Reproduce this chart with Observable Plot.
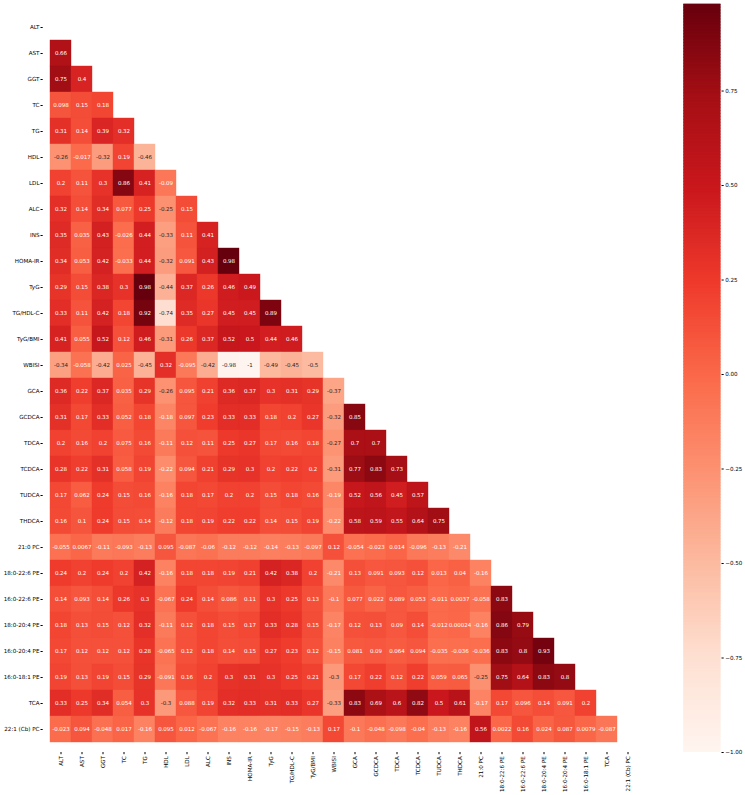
<!DOCTYPE html>
<html>
<head>
<meta charset="utf-8">
<script src="https://cdn.jsdelivr.net/npm/d3@7"></script>
<script src="https://cdn.jsdelivr.net/npm/@observablehq/plot@0.6"></script>
<style>
  html, body { margin: 0; padding: 0; background: #fff; }
  #wrap { display: flex; width: 745px; height: 795px; }
  #wrap svg { display: block; }
</style>
</head>
<body>
<div id="wrap"></div>
<script>
// ---- data ----
const labels = ["ALT","AST","GGT","TC","TG","HDL","LDL","ALC","INS","HOMA-IR","TyG","TG/HDL-C","TyG/BMI","WBISI","GCA","GCDCA","TDCA","TCDCA","TUDCA","THDCA","21:0 PC","18:0-22:6 PE","16:0-22:6 PE","18:0-20:4 PE","16:0-20:4 PE","16:0-18:1 PE","TCA","22:1 (Cb) PC"];

// lower triangle: row i (starting with AST) holds correlations with columns 0..i-1
const rowAST   = [0.66];
const rowGGT   = [0.75, 0.4];
const rowTC    = [0.098, 0.15, 0.18];
const rowTG    = [0.31, 0.14, 0.39, 0.32];
const rowHDL   = [-0.26, -0.017, -0.32, 0.19, -0.46];
const rowLDL   = [0.2, 0.11, 0.3, 0.86, 0.41, -0.09];
const rowALC   = [0.32, 0.14, 0.34, 0.077, 0.25, -0.25, 0.15];
const rowINS   = [0.35, 0.035, 0.43, -0.026, 0.44, -0.33, 0.11, 0.41];
const rowHOMA  = [0.34, 0.053, 0.42, -0.033, 0.44, -0.32, 0.091, 0.43, 0.98];
const rowTyG   = [0.29, 0.15, 0.38, 0.3, 0.98, -0.44, 0.37, 0.26, 0.46, 0.49];
const rowTGHDL = [0.33, 0.11, 0.42, 0.18, 0.92, -0.74, 0.35, 0.27, 0.45, 0.45, 0.89];
const rowTyGBMI= [0.41, 0.055, 0.52, 0.12, 0.46, -0.31, 0.26, 0.37, 0.52, 0.5, 0.44, 0.46];
const rowWBISI = [-0.34, -0.058, -0.42, 0.025, -0.45, 0.32, -0.095, -0.42, -0.98, -1, -0.49, -0.45, -0.5];
const rowGCA   = [0.36, 0.22, 0.37, 0.035, 0.29, -0.26, 0.095, 0.21, 0.36, 0.37, 0.3, 0.31, 0.29, -0.37];
const rowGCDCA = [0.31, 0.17, 0.33, 0.052, 0.18, -0.18, 0.097, 0.23, 0.33, 0.33, 0.18, 0.2, 0.27, -0.32, 0.85];
const rowTDCA  = [0.2, 0.16, 0.2, 0.075, 0.16, -0.11, 0.12, 0.11, 0.25, 0.27, 0.17, 0.16, 0.18, -0.27, 0.7, 0.7];
const rowTCDCA = [0.28, 0.22, 0.31, 0.058, 0.19, -0.22, 0.094, 0.21, 0.29, 0.3, 0.2, 0.22, 0.2, -0.31, 0.77, 0.83, 0.73];
const rowTUDCA = [0.17, 0.062, 0.24, 0.15, 0.16, -0.16, 0.18, 0.17, 0.2, 0.2, 0.15, 0.18, 0.16, -0.19, 0.52, 0.56, 0.45, 0.57];
const rowTHDCA = [0.16, 0.1, 0.24, 0.15, 0.14, -0.12, 0.18, 0.19, 0.22, 0.22, 0.14, 0.15, 0.19, -0.22, 0.58, 0.59, 0.55, 0.64, 0.75];
const row21PC  = [-0.055, 0.0067, -0.11, -0.093, -0.13, 0.095, -0.087, -0.06, -0.12, -0.12, -0.14, -0.13, -0.097, 0.12, -0.054, -0.023, 0.014, -0.096, -0.13, -0.21];
const row18226 = [0.24, 0.2, 0.24, 0.2, 0.42, -0.16, 0.18, 0.18, 0.19, 0.21, 0.42, 0.38, 0.2, -0.21, 0.13, 0.091, 0.093, 0.12, 0.013, 0.04, -0.16];
const row16226 = [0.14, 0.093, 0.14, 0.26, 0.3, -0.067, 0.24, 0.14, 0.086, 0.11, 0.3, 0.25, 0.13, -0.1, 0.077, 0.022, 0.089, 0.053, -0.011, 0.0037, -0.058, 0.83];
const row18204 = [0.18, 0.13, 0.15, 0.12, 0.32, -0.11, 0.12, 0.18, 0.15, 0.17, 0.33, 0.28, 0.15, -0.17, 0.12, 0.13, 0.09, 0.14, -0.012, 0.00024, -0.16, 0.86, 0.79];
const row16204 = [0.17, 0.12, 0.12, 0.12, 0.28, -0.065, 0.12, 0.18, 0.14, 0.15, 0.27, 0.23, 0.12, -0.15, 0.081, 0.09, 0.064, 0.094, -0.035, -0.036, -0.036, 0.83, 0.8, 0.93];
const row16181 = [0.19, 0.13, 0.19, 0.15, 0.29, -0.091, 0.16, 0.2, 0.3, 0.31, 0.3, 0.25, 0.21, -0.3, 0.17, 0.22, 0.12, 0.22, 0.059, 0.065, -0.25, 0.75, 0.64, 0.83, 0.8];
const rowTCA   = [0.33, 0.25, 0.34, 0.054, 0.3, -0.3, 0.088, 0.19, 0.32, 0.33, 0.31, 0.33, 0.27, -0.33, 0.83, 0.69, 0.6, 0.82, 0.5, 0.61, -0.17, 0.17, 0.096, 0.14, 0.091, 0.2];
const row221PC = [-0.023, 0.094, -0.048, 0.017, -0.16, 0.095, 0.012, -0.067, -0.16, -0.16, -0.17, -0.15, -0.13, 0.17, -0.1, -0.048, -0.098, -0.04, -0.13, -0.16, 0.56, 0.0022, 0.16, 0.024, 0.087, 0.0079, -0.087];

const lowerRows = [rowAST, rowGGT, rowTC, rowTG, rowHDL, rowLDL, rowALC, rowINS, rowHOMA, rowTyG, rowTGHDL, rowTyGBMI, rowWBISI, rowGCA, rowGCDCA, rowTDCA, rowTCDCA, rowTUDCA, rowTHDCA, row21PC, row18226, row16226, row18204, row16204, row16181, rowTCA, row221PC];

const colorbarTicks = [-1, -0.75, -0.5, -0.25, 0, 0.25, 0.5, 0.75];
const vmin = -1, vmax = 0.98;
const redsColors = ["#fff5f0","#fee0d2","#fcbba1","#fc9272","#fb6a4a","#ef3b2c","#cb181d","#a50f15","#67000d"];

// ---- build table ----
const cells = [];
lowerRows.forEach((vals, k) => {
  const i = k + 1;
  vals.forEach((v, j) => cells.push({row: labels[i], col: labels[j], value: v}));
});

const interp = d3.piecewise(d3.interpolateRgb, redsColors);
const toT = v => Math.max(0, Math.min(1, (v - vmin) / (vmax - vmin)));
function luminance(c) {
  const rgb = d3.rgb(c);
  const f = x => { x /= 255; return x <= 0.03928 ? x / 12.92 : Math.pow((x + 0.055) / 1.055, 2.4); };
  return 0.2126 * f(rgb.r) + 0.7152 * f(rgb.g) + 0.0722 * f(rgb.b);
}
const textColor = v => luminance(interp(toT(v))) > 0.408 ? "#262626" : "#ffffff";
const fmt2g = d3.format(".2~g");
const fmt = v => fmt2g(v).replace("\u2212", "-");

const colorScale = {type: "linear", domain: [vmin, vmax], interpolate: interp};
const FONT = "DejaVu Sans";

const main = Plot.plot({
  width: 660,
  height: 795,
  marginLeft: 42.7,
  marginRight: 14.7,
  marginTop: 3.6,
  marginBottom: 43,
  style: {fontFamily: FONT, fontSize: "5.6px", background: "#fff", color: "#000", overflow: "visible"},
  x: {domain: labels, padding: 0, tickRotate: -90, tickSize: 2.2, tickPadding: 1.5, label: null},
  y: {domain: labels, padding: 0, tickSize: 2.2, tickPadding: 1.5, label: null},
  color: colorScale,
  marks: [
    Plot.cell(cells, {x: "col", y: "row", fill: "value", stroke: "value", strokeWidth: 0.4, inset: 0}),
    Plot.text(cells, {x: "col", y: "row", text: d => fmt(d.value), fill: d => textColor(d.value), fontSize: 5.5})
  ]
});

const step = 0.004;
const ramp = d3.range(vmin, vmax, step);
const cbar = Plot.plot({
  width: 85,
  height: 795,
  marginLeft: 23.3,
  marginRight: 24.5,
  marginTop: 3.6,
  marginBottom: 43,
  style: {fontFamily: FONT, fontSize: "5.6px", background: "#fff", color: "#000", overflow: "visible"},
  x: {domain: [0, 1], axis: null},
  y: {domain: [vmin, vmax], axis: "right", ticks: colorbarTicks, tickFormat: d3.format(".2f"), tickSize: 2.2, tickPadding: 2, label: null},
  color: colorScale,
  marks: [
    Plot.rect(ramp, {x1: 0, x2: 1, y1: d => d, y2: d => Math.min(vmax, d + step * 1.6), fill: d => d + step / 2})
  ]
});

const wrap = document.getElementById("wrap");
wrap.appendChild(main);
wrap.appendChild(cbar);
</script>
</body>
</html>
